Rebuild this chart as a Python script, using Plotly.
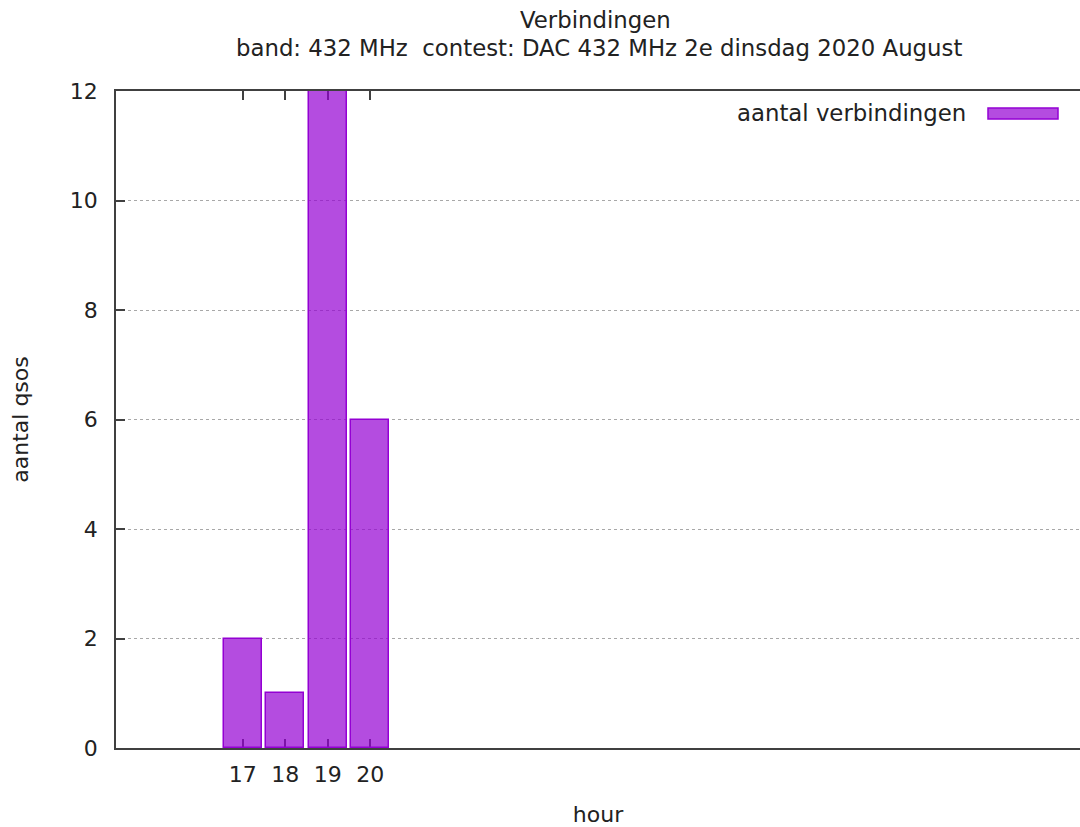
import plotly.graph_objects as go

hours = [17, 18, 19, 20]
qsos = [2, 1, 12, 6]
series_name = "aantal verbindingen"
title_line1 = "Verbindingen"
title_line2 = "band: 432 MHz  contest: DAC 432 MHz 2e dinsdag 2020 August"
x_title = "hour"
y_title = "aantal qsos"
y_ticks = [0, 2, 4, 6, 8, 10, 12]

FONT = "DejaVu Sans"
FS = 22
FT = 22.8
TXT = "#222222"
AX = "#404040"
FILL = "rgba(148,0,211,0.7)"
EDGE = "#9400d3"

W, H = 1080, 827
ML, MR, MT, MB = 116, 0, 91, 79

fig = go.Figure()
fig.add_trace(go.Bar(
    x=hours, y=qsos, name=series_name, width=0.9,
    marker=dict(color=FILL, line=dict(color=EDGE, width=1.5)),
    showlegend=False,
))

fig.update_layout(
    width=W, height=H,
    margin=dict(l=ML, r=MR, t=MT, b=MB, autoexpand=False),
    paper_bgcolor="white", plot_bgcolor="white",
    font=dict(family=FONT, size=FS, color=TXT),
    bargap=0,
)

fig.update_xaxes(
    range=[14.02, 36.7],
    tickmode="array", tickvals=hours, ticktext=[str(h) for h in hours],
    ticks="inside", ticklen=9, tickcolor=AX, tickwidth=1.5,
    showline=True, linecolor=AX, linewidth=1.5, mirror="ticks",
    showgrid=False, zeroline=False, layer="below traces",
    ticklabelstandoff=6,
    title=dict(text=x_title, standoff=21, font=dict(size=FS)),
)
fig.update_yaxes(
    range=[0, 12],
    tickmode="array", tickvals=y_ticks,
    ticks="inside", ticklen=9, tickcolor=AX, tickwidth=1.5,
    showline=True, linecolor=AX, linewidth=1.5,
    showgrid=True, gridcolor="#a8a8a8", griddash="dot", gridwidth=1,
    zeroline=False, layer="below traces",
    ticklabelstandoff=12,
    title=dict(text=y_title, standoff=35, font=dict(size=FS)),
)

pw = W - ML - MR
ph = H - MT - MB

# title lines
fig.add_annotation(text=title_line1, xref="paper", yref="paper",
                   x=(595 - ML) / pw, y=1 + (91 - 20) / ph,
                   showarrow=False, xanchor="center", yanchor="middle",
                   font=dict(size=FT, color=TXT))
fig.add_annotation(text=title_line2, xref="paper", yref="paper",
                   x=(599 - ML) / pw, y=1 + (91 - 48) / ph,
                   showarrow=False, xanchor="center", yanchor="middle",
                   font=dict(size=FT, color=TXT))

# legend (text + wide swatch, gnuplot style)
fig.add_annotation(text=series_name, xref="paper", yref="paper",
                   x=(968 - ML) / pw, y=1 - (113 - MT) / ph,
                   showarrow=False, xanchor="right", yanchor="middle",
                   font=dict(size=FT, color=TXT))
fig.add_shape(type="rect", xref="paper", yref="paper",
              x0=(988 - ML) / pw, x1=(1058 - ML) / pw,
              y0=1 - (119 - MT) / ph, y1=1 - (108 - MT) / ph,
              fillcolor=FILL, line=dict(color=EDGE, width=1.5))

fig.write_html("out.html", config={"displayModeBar": False},
               post_script="document.body.style.margin='0';")
